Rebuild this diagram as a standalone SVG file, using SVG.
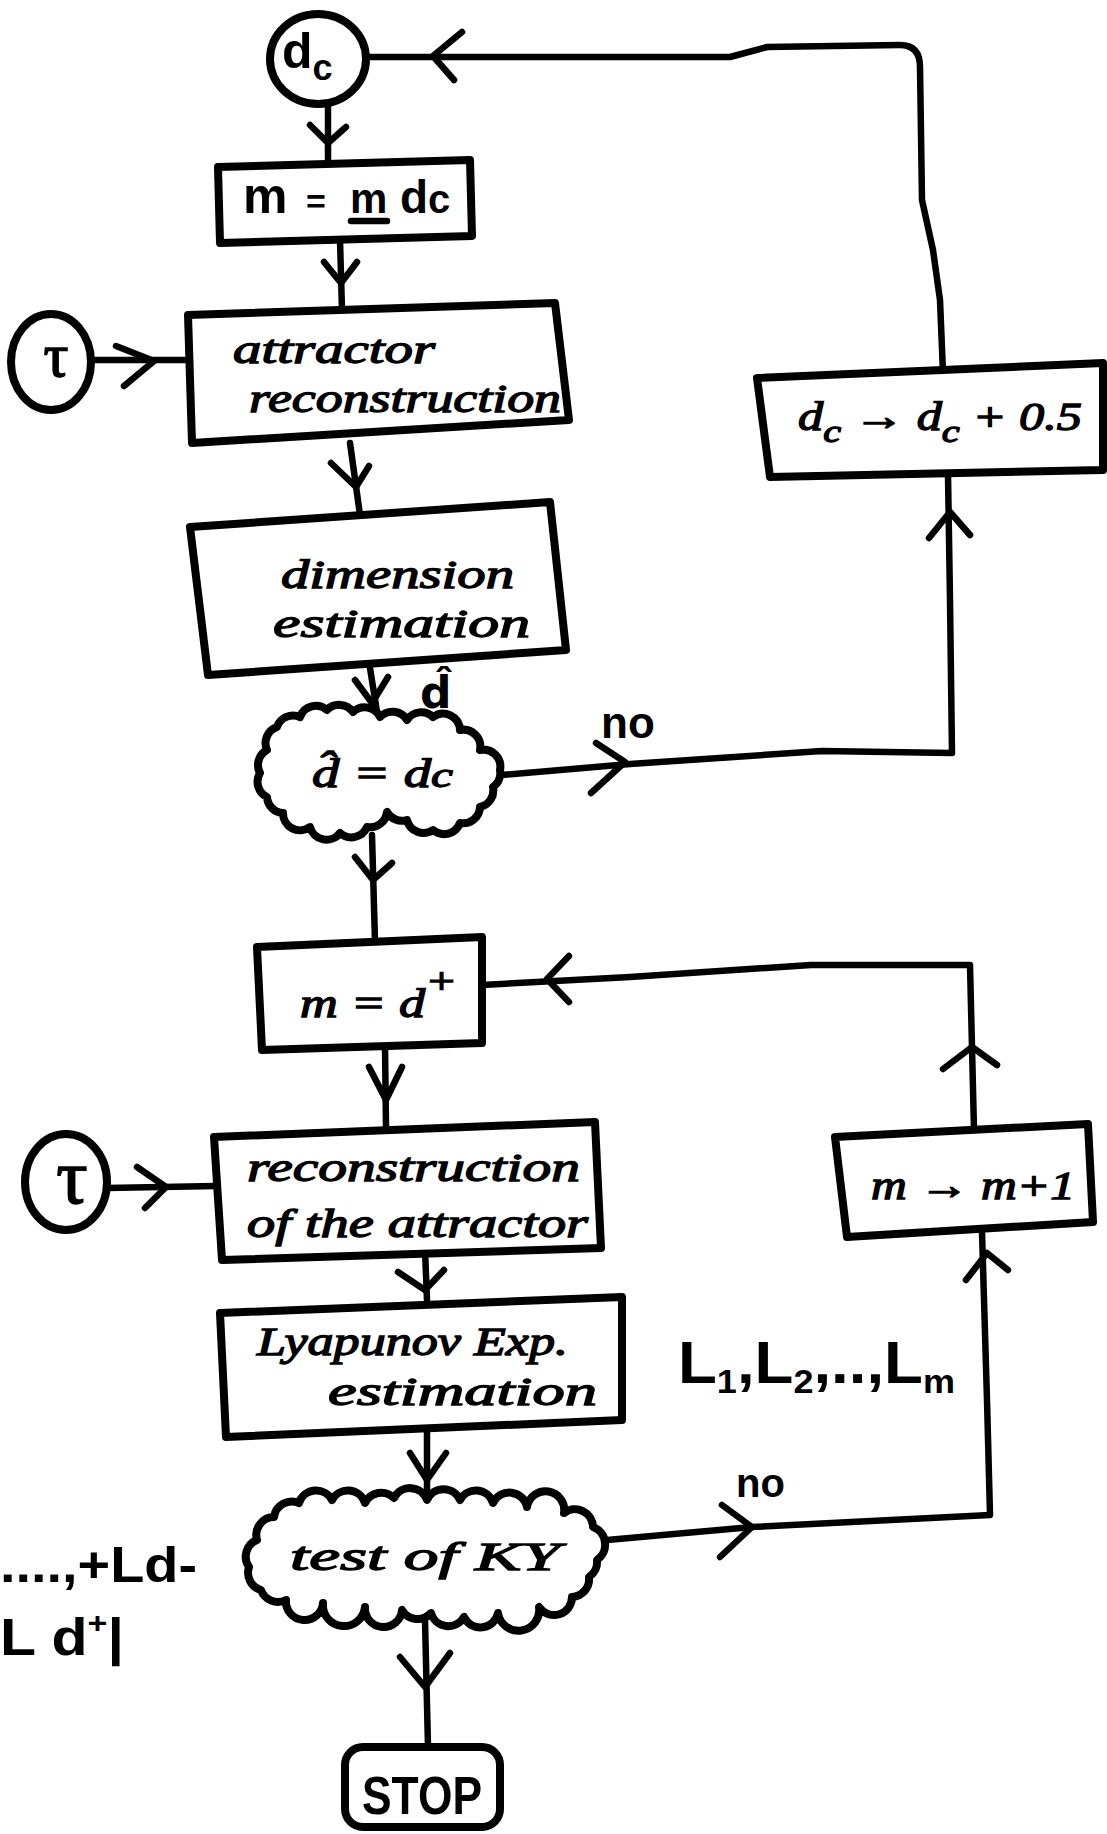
<svg xmlns="http://www.w3.org/2000/svg" width="1107" height="1834" viewBox="0 0 1107 1834">
<style>
.ln{fill:none;stroke:#000;stroke-width:6.5;stroke-linecap:round;stroke-linejoin:round}
.bx{fill:#fff;stroke:#000;stroke-width:8;stroke-linejoin:round;stroke-linecap:round}
.hw{font-family:"Liberation Serif",serif;font-style:italic;font-size:40px;fill:#000;stroke:#000;stroke-width:1.3}
.bd{font-family:"Liberation Sans",sans-serif;font-weight:bold;fill:#000}
.gr{font-family:"Liberation Serif",serif;fill:#000;stroke:#000;stroke-width:1.5}
</style>
<rect width="1107" height="1834" fill="#fff"/>
<g id="connectors">
<path class="ln" d="M943,373 L940,300 L933,250 L922,200 L920,67 Q920,45 900,45 L767,47 L730,57 L364,57"/>
<path class="ln" d="M462,32 L433,56 L454,80"/>
<path class="ln" d="M328,103 L328,163"/><path class="ln" d="M310,125 L328,143 L346,127"/>
<path class="ln" d="M340,240 L342,310"/><path class="ln" d="M324,262 L341,283 L357,262"/>
<path class="ln" d="M91,360 L188,360"/><path class="ln" d="M116,346 L154,361 L124,386"/>
<path class="ln" d="M350,443 L360,515"/><path class="ln" d="M331,463 L356,487 L369,466"/>
<path class="ln" d="M370,668 L377,712"/><path class="ln" d="M355,680 L372,703 L388,677"/>
<path class="ln" d="M501,775 L630,764 L822,751 L952,753 L950,600 L948,475"/><path class="ln" d="M596,743 L625,762 L591,793"/><path class="ln" d="M929,538 L950,512 L970,535"/>
<path class="ln" d="M372,835 L375,942"/><path class="ln" d="M355,857 L373,880 L392,863"/>
<path class="ln" d="M974,1130 L970,965 L811,965 L630,977 L482,985"/><path class="ln" d="M569,956 L547,979 L569,1002"/><path class="ln" d="M943,1069 L972,1047 L997,1065"/>
<path class="ln" d="M385,1045 L386,1127"/><path class="ln" d="M369,1067 L386,1100 L402,1067"/>
<path class="ln" d="M107,1188 L216,1186"/><path class="ln" d="M137,1167 L166,1187 L145,1208"/>
<path class="ln" d="M425,1250 L427,1300"/><path class="ln" d="M398,1272 L425,1290 L444,1270"/>
<path class="ln" d="M427,1425 L427,1500"/><path class="ln" d="M410,1453 L427,1480 L446,1453"/>
<path class="ln" d="M607,1540 L752,1527 L990,1515 L987,1400 L982,1232"/><path class="ln" d="M722,1505 L752,1527 L720,1557"/><path class="ln" d="M966,1280 L987,1253 L1008,1270"/>
<path class="ln" d="M425,1620 L428,1747"/><path class="ln" d="M400,1657 L425,1687 L450,1653"/>
</g>
<g id="n-dc"><ellipse class="bx" cx="318" cy="59" rx="48" ry="45"/><text class="bd" x="282" y="68" font-size="50">d<tspan font-size="36" dy="12">c</tspan></text></g>
<g id="n-m"><path class="bx" d="M218,167 L470,160 L472,236 L220,243 Z"/>
<text class="bd" y="213" font-size="50"><tspan x="243">m</tspan><tspan x="306" font-size="34">=</tspan><tspan x="350" font-size="42">m</tspan><tspan x="400" font-size="46">d</tspan><tspan font-size="40">c</tspan></text>
<line class="ln" x1="351" y1="221" x2="387" y2="221" stroke-width="5"/></g>
<g id="n-tau1"><ellipse class="bx" cx="51" cy="362" rx="40" ry="48"/><text class="gr" x="56" y="376" font-size="62" text-anchor="middle">τ</text></g>
<g id="n-attr"><path class="bx" d="M188,315 L555,303 L569,420 L192,443 Z"/>
<text class="hw" x="233" y="363" textLength="202" lengthAdjust="spacingAndGlyphs">attractor</text>
<text class="hw" x="249" y="412" textLength="312" lengthAdjust="spacingAndGlyphs">reconstruction</text></g>
<g id="n-dim"><path class="bx" d="M190,527 L550,502 L566,650 L208,675 Z"/>
<text class="hw" x="281" y="588" font-size="42" textLength="233" lengthAdjust="spacingAndGlyphs">dimension</text>
<text class="hw" x="273" y="637" font-size="42" textLength="257" lengthAdjust="spacingAndGlyphs">estimation</text></g>
<g id="lbl-dhat"><text x="420" y="708" font-size="44" style="font-family:'DejaVu Sans',sans-serif;font-weight:bold">d̂</text></g>
<g id="n-cloud1"><path class="bx" d="M260,773 A17,17 0 0 1 267,750 A17,17 0 0 1 277,727 A17,17 0 0 1 300,717 A17,17 0 0 1 327,710 A17,17 0 0 1 353,712 A17,17 0 0 1 380,717 A17,17 0 0 1 407,720 A17,17 0 0 1 433,717 A17,17 0 0 1 460,730 A17,17 0 0 1 480,750 A17,17 0 0 1 500,770 A17,17 0 0 1 493,787 A17,17 0 0 1 480,807 A17,17 0 0 1 460,823 A17,17 0 0 1 433,830 A17,17 0 0 1 407,820 A17,17 0 0 1 387,812 A17,17 0 0 1 367,827 A17,17 0 0 1 340,833 A17,17 0 0 1 310,827 A17,17 0 0 1 283,813 A17,17 0 0 1 267,797 A17,17 0 0 1 260,773 Z"/>
<text class="hw" x="312" y="787" font-size="48" textLength="141" lengthAdjust="spacingAndGlyphs">d̂ = d<tspan font-size="36">c</tspan></text></g>
<g id="lbl-no1"><text class="bd" x="601" y="738" font-size="44">no</text></g>
<g id="n-inc"><path class="bx" d="M757,378 L1103,363 L1103,470 L770,477 Z"/>
<text class="hw" x="798" y="430" font-size="44" textLength="284" lengthAdjust="spacingAndGlyphs">d<tspan dy="12" font-size="32">c</tspan><tspan dy="-12"> → d</tspan><tspan dy="12" font-size="32">c</tspan><tspan dy="-12"> + 0.5</tspan></text></g>
<g id="n-md"><path class="bx" d="M257,947 L482,937 L482,1043 L262,1050 Z"/>
<text class="hw" x="300" y="1017" font-size="52" textLength="157" lengthAdjust="spacingAndGlyphs">m = d<tspan dy="-24" font-size="36">+</tspan></text></g>
<g id="n-mm"><path class="bx" d="M835,1137 L1088,1124 L1093,1222 L847,1237 Z"/>
<text class="hw" x="871" y="1199" font-size="42" textLength="204" lengthAdjust="spacingAndGlyphs">m → m+1</text></g>
<g id="n-tau2"><ellipse class="bx" cx="66" cy="1182" rx="41" ry="48"/><text class="gr" x="72" y="1203" font-size="78" text-anchor="middle">τ</text></g>
<g id="n-recon"><path class="bx" d="M214,1137 L595,1122 L601,1248 L222,1260 Z"/>
<text class="hw" x="247" y="1181" textLength="333" lengthAdjust="spacingAndGlyphs">reconstruction</text>
<text class="hw" x="247" y="1237" textLength="341" lengthAdjust="spacingAndGlyphs">of the attractor</text></g>
<g id="n-lyap"><path class="bx" d="M220,1313 L622,1297 L622,1420 L226,1437 Z"/>
<text class="hw" x="257" y="1355" textLength="311" lengthAdjust="spacingAndGlyphs">Lyapunov Exp.</text>
<text class="hw" x="328" y="1405" textLength="269" lengthAdjust="spacingAndGlyphs">estimation</text></g>
<g id="lbl-L"><text class="bd" x="678" y="1383" font-size="60" textLength="277" lengthAdjust="spacingAndGlyphs">L<tspan font-size="34" dy="10">1</tspan><tspan dy="-10">,L</tspan><tspan font-size="34" dy="10">2</tspan><tspan dy="-10">,..,L</tspan><tspan font-size="34" dy="10">m</tspan></text></g>
<g id="lbl-no2"><text class="bd" x="736" y="1497" font-size="40">no</text></g>
<g id="n-cloud2"><path class="bx" d="M249,1567 A18,18 0 0 1 257,1540 A18,18 0 0 1 274,1517 A18,18 0 0 1 299,1503 A18,18 0 0 1 332,1500 A18,18 0 0 1 365,1503 A18,18 0 0 1 394,1498 A18,18 0 0 1 427,1500 A18,18 0 0 1 460,1500 A18,18 0 0 1 493,1503 A18,18 0 0 1 527,1507 A18,18 0 0 1 564,1513 A18,18 0 0 1 593,1527 A18,18 0 0 1 605,1543 A18,18 0 0 1 597,1560 A18,18 0 0 1 589,1577 A18,18 0 0 1 572,1597 A18,18 0 0 1 539,1607 A18,18 0 0 1 498,1613 A18,18 0 0 1 464,1617 A18,18 0 0 1 431,1613 A18,18 0 0 1 402,1610 A18,18 0 0 1 365,1607 A18,18 0 0 1 323,1603 A18,18 0 0 1 286,1600 A18,18 0 0 1 261,1590 A18,18 0 0 1 249,1567 Z"/>
<text class="hw" x="290" y="1570" font-size="48" textLength="270" lengthAdjust="spacingAndGlyphs">test of KY</text></g>
<g id="n-stop"><rect class="bx" x="345" y="1747" width="155" height="80" rx="18"/>
<text class="bd" x="422" y="1814" font-size="54" text-anchor="middle" textLength="120" lengthAdjust="spacingAndGlyphs">STOP</text></g>
<g id="lbl-ky"><text class="bd" x="0" y="1582" font-size="50" textLength="197" lengthAdjust="spacingAndGlyphs">....,+Ld-</text>
<text class="bd" x="0" y="1655" font-size="52" textLength="124" lengthAdjust="spacingAndGlyphs">L d<tspan font-size="30" dy="-22">+</tspan><tspan dy="22">|</tspan></text></g>
</svg>
